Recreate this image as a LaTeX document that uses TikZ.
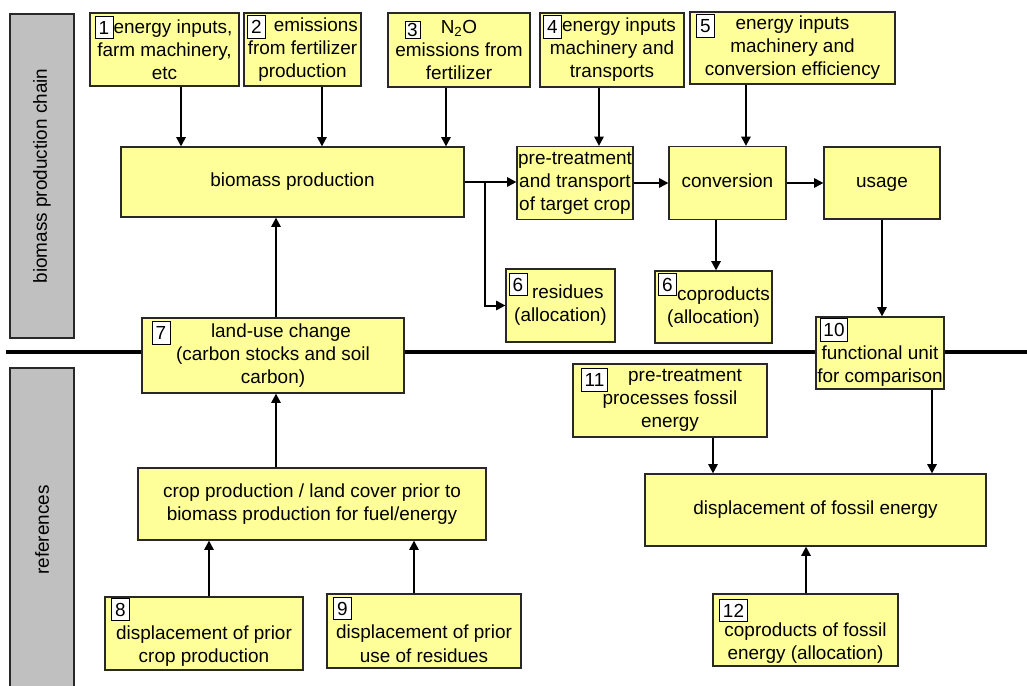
\documentclass[tikz,border=0pt]{standalone}
\usepackage{fontspec}
\setmainfont{Liberation Sans}
\usepackage{tikz}
\usetikzlibrary{arrows.meta}
\definecolor{boxyellow}{RGB}{255,255,153}
\definecolor{bargray}{RGB}{192,192,192}
\definecolor{edgegray}{RGB}{40,40,40}

\begin{document}
\begin{tikzpicture}[x=0.75pt,y=-0.75pt,
	every node/.style={font=\fontsize{14.2}{17.3}\selectfont},
	box/.style={draw=edgegray,fill=boxyellow,line width=0.9pt,align=center,inner sep=0pt},
	tag/.style={draw=black,fill=white,line width=0.6pt,inner xsep=2.5pt,inner ysep=0pt,minimum width=13.5pt,minimum height=17pt},
	bar/.style={draw=edgegray,fill=bargray,line width=0.8pt,rotate=90,minimum width=243pt,minimum height=48pt},
	arr/.style={line width=1.5pt,-{Triangle[length=7pt,width=7pt]}}]
	\useasboundingbox (0,0) rectangle (1027,685);

	\node[bar] (chain) at (42,176) {biomass production chain};	%top
	\node[bar] (refs)  at (42,530) {references};					%bottom
	\draw[line width=3pt] (6,352)--(1027,352);					%divider

	% chain
	\node[box,minimum width=111.75pt,minimum height=54.75pt] (in1) at (164.5,49.5) {\hspace*{12.75pt}energy inputs,\\farm machinery,\\etc};
	\node[box,minimum width=87.75pt,minimum height=54.75pt]  (in2) at (302.5,49.5) {\hspace*{20pt}emissions\\from fertilizer\\production};
	\node[box,minimum width=106.5pt,minimum height=55.5pt]   (in3) at (459,50)     {N\textsubscript{2}O\\emissions from\\fertilizer};
	\node[box,minimum width=108pt,minimum height=55.5pt]     (in4) at (612,50)     {\hspace*{10.5pt}energy inputs\\machinery and\\transports};
	\node[box,minimum width=153.75pt,minimum height=54pt]    (in5) at (792.5,48)   {energy inputs\\machinery and\\conversion efficiency};
	\node[box,minimum width=257.25pt,minimum height=52.5pt]  (bio) at (292.5,182)  {\strut biomass production};
	\node[box,minimum width=87pt,minimum height=54.75pt]     (pre) at (575,183)    {pre-treatment\\and transport\\of target crop};
	\node[box,minimum width=87.75pt,minimum height=54.75pt]  (conv) at (727.5,183) {\strut conversion};
	\node[box,minimum width=87pt,minimum height=54pt]        (use) at (882,183)    {\strut usage};
	\node[box,minimum width=81.75pt,minimum height=54.75pt]  (res) at (560.5,305.5) {\hspace*{11pt}residues\\(allocation)};
	\node[box,minimum width=87.75pt,minimum height=54pt]     (cop) at (713.5,307)  {\hspace*{15pt}coproducts\\(allocation)};
	\node[box,minimum width=96pt,minimum height=54pt]        (fu)  at (880,353)    {\strut\\functional unit\\for comparison};
	\node[box,minimum width=196.5pt,minimum height=56.25pt]  (lu)  at (273,355.5)  {\hspace*{12pt}land-use change\\(carbon stocks and soil\\carbon)};

	% references
	\node[box,minimum width=261pt,minimum height=54pt]       (crop) at (312,504)   {crop production / land cover prior to\\biomass production for fuel/energy};
	\node[box,minimum width=148.5pt,minimum height=54.75pt]  (d8)  at (204,633.5)  {\strut\\displacement of prior\\crop production};
	\node[box,minimum width=145.5pt,minimum height=55.5pt]   (d9)  at (424,631)    {\strut\\displacement of prior\\use of residues};
	\node[box,minimum width=145.5pt,minimum height=54.75pt]  (pf)  at (670,400.5)  {\hspace*{22.5pt}pre-treatment\\processes fossil\\energy};
	\node[box,minimum width=255.75pt,minimum height=54pt]    (disp) at (815.5,510) {\strut displacement of fossil energy};
	\node[box,minimum width=138.75pt,minimum height=54pt]    (cf)  at (805.5,630)  {\strut\\coproducts of fossil\\energy (allocation)};

	% arrows
	\draw[arr] ([xshift=12.4pt]in1.south)--([xshift=12.4pt]in1.south |- bio.north);
	\draw[arr] ([xshift=14.6pt]in2.south)--([xshift=14.6pt]in2.south |- bio.north);
	\draw[arr] ([xshift=-9.75pt]in3.south)--([xshift=-9.75pt]in3.south |- bio.north);
	\draw[arr] ([xshift=-9.75pt]in4.south)--([xshift=-9.75pt]in4.south |- pre.north);
	\draw[arr] ([xshift=-34.9pt]in5.south)--([xshift=-34.9pt]in5.south |- conv.north);
	\draw[arr] (bio.east)--(bio.east -| pre.west);
	\draw[arr] ([xshift=15pt]bio.east) |- (res.west);				%residues
	\draw[arr] (pre.east)--(conv.west);
	\draw[arr] (conv.east)--(use.west);
	\draw[arr] ([xshift=-8.6pt]conv.south)--([xshift=-8.6pt]conv.south |- cop.north);
	\draw[arr] (use.south)--(use.south |- fu.north);
	\draw[arr] ([xshift=2.25pt]lu.north)--([xshift=2.25pt]lu.north |- bio.south);
	\draw[arr] ([xshift=2.25pt]lu.south |- crop.north)--([xshift=2.25pt]lu.south);
	\draw[arr] ([xshift=3.75pt]d8.north)--([xshift=3.75pt]d8.north |- crop.south);
	\draw[arr] ([xshift=-7.5pt]d9.north)--([xshift=-7.5pt]d9.north |- crop.south);
	\draw[arr] ([xshift=32.25pt]pf.south)--([xshift=32.25pt]pf.south |- disp.north);
	\draw[arr] ([xshift=39pt]fu.south)--([xshift=39pt]fu.south |- disp.north);
	\draw[arr] ([xshift=0.4pt]cf.north)--([xshift=0.4pt]cf.north |- disp.south);

	% number tags
	\node[tag] (t1)  at (104,27.5)   {1};
	\node[tag] (t2)  at (256.5,27)   {2};
	\node[tag,minimum width=11.25pt,minimum height=12.75pt,inner xsep=1pt] (t3) at (412.5,29.5) {3};
	\node[tag] (t4)  at (552.5,27)   {4};
	\node[tag] (t5)  at (705.5,26)   {5};
	\node[tag] (t6a) at (518,284.5)  {6};
	\node[tag] (t6b) at (667.5,284.5) {6};
	\node[tag] (t7)  at (161,333)    {7};
	\node[tag] (t8)  at (120.5,609.5) {8};
	\node[tag] (t9)  at (342.5,608.5) {9};
	\node[tag] (t10) at (834,330)    {10};
	\node[tag] (t11) at (594.5,380)  {11};
	\node[tag] (t12) at (733.5,610.5) {12};
\end{tikzpicture}
\end{document}
